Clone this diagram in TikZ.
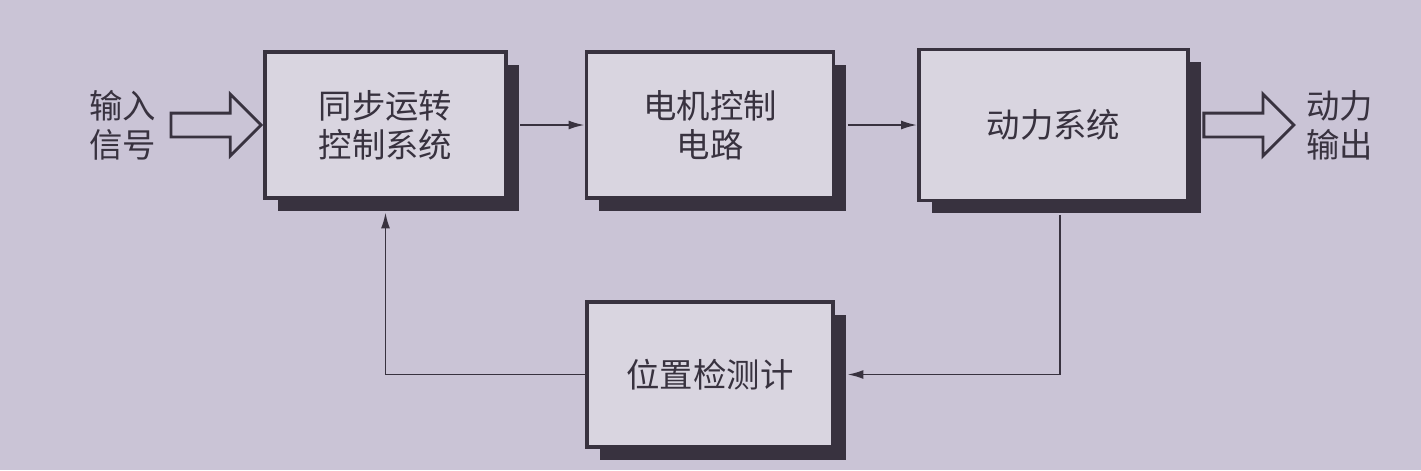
\documentclass[tikz,border=0pt]{standalone}
\usepackage{fontspec}
\newfontfamily\cjk{Noto Sans CJK SC}
\usepackage{tikz}
\usetikzlibrary{
  positioning, shapes.arrows, shadows, arrows.meta
}
\definecolor{paper}{HTML}{CAC4D6}
\definecolor{boxgray}{HTML}{D9D5E0}
\definecolor{ink}{HTML}{38323F}
\tikzset{
	blocknode/.style={
			rectangle,
			draw=ink,
			line width=2.2pt,
			fill=boxgray,
			text=ink,
			font=\cjk\fontsize{19pt}{22pt}\selectfont,
			align=center,
			inner sep=0pt,
			drop shadow={shadow xshift=0.25cm, shadow yshift=-0.25cm, fill=ink, opacity=1}
		},
	hollowarrow/.style={
			single arrow,
			draw=ink,
			line width=1.6pt,
			fill=none,
			minimum height=1.8cm,
			inner xsep=0pt,
			inner ysep=0.21cm,
			single arrow head extend=0.38cm
		},
	sidetext/.style={
			font=\cjk\fontsize{19pt}{22pt}\selectfont,
			text=ink,
			align=center,
			inner sep=0pt
		},
	link/.style={
			draw=ink,
			line width=1.1pt,
			-{Latex[length=0.32cm,width=0.18cm]}
		}
}

\begin{document}
\begin{tikzpicture}
\fill[paper] (0,0) rectangle (28.42,-9.4);
\useasboundingbox (0,0) rectangle (28.42,-9.4);
\node[blocknode, minimum width=4.82cm, minimum height=2.92cm] (n1) at (7.71,-2.5) {同步运转\\控制系统};
\node[blocknode, minimum width=4.94cm, minimum height=2.92cm] (n2) at (14.2,-2.5) {电机控制\\电路};
\node[blocknode, minimum width=5.38cm, minimum height=3.02cm] (n3) at (21.07,-2.5) {动力系统};
\node[blocknode, minimum width=4.92cm, minimum height=2.9cm] (n4) at (14.2,-7.49) {位置检测计};

\node[hollowarrow, anchor=tip] (inarrow) at (n1.west) {};
\node[sidetext, left=0.26cm of inarrow.tail] (insig) {输入\\信号};
\node[hollowarrow, anchor=tail] (outarrow) at ([xshift=0.25cm]n3.east) {};
\node[sidetext, right=0.2cm of outarrow.tip] (outpow) {动力\\输出};

\draw[link] ([xshift=0.25cm]n1.east) -- (n2.west);
\draw[link] ([xshift=0.25cm]n2.east) -- (n3.west);

\draw[link] ([xshift=0.13cm, yshift=-0.25cm]n3.south) |- ([xshift=0.25cm]n4.east);
\draw[link] (n4.west) -| ([yshift=-0.25cm]n1.south);

\end{tikzpicture}
\end{document}
